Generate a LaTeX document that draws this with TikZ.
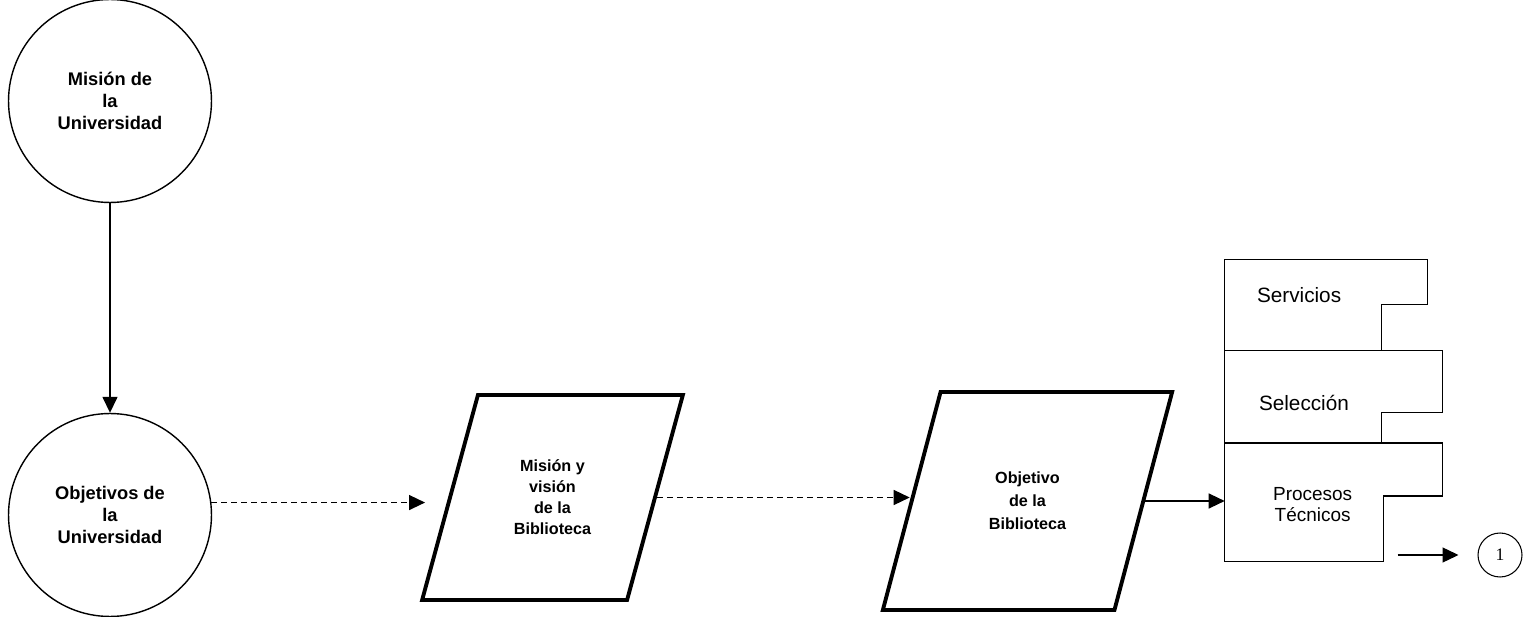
\documentclass[tikz,border=0pt]{standalone}
\usepackage{fontspec}
\setmainfont{Liberation Sans}
\newfontfamily\numfont{Liberation Serif}
\usetikzlibrary{positioning,shapes.geometric,arrows.meta}

\tikzset{
  goal/.style={draw, circle, line width=0.8pt, minimum size=4.06cm, inner sep=0pt, align=center,
    font=\bfseries\fontsize{10.4}{12.4}\selectfont},
  datum/.style={draw, trapezium, trapezium stretches=true, line width=2.2pt, inner sep=0pt, align=center,
    font=\bfseries\fontsize{9.2}{12}\selectfont},
  tabbox/.style={minimum width=4.34cm, inner sep=0pt},
  tabline/.style={line width=0.8pt},
  tabtext/.style={inner sep=0pt, align=center, font=\fontsize{11.8}{12}\selectfont},
  arr/.style={-{Triangle[length=0.32cm,width=0.3cm]}, line width=0.8pt},
  dasharr/.style={arr, dash pattern=on 0.12cm off 0.08cm},
}

\begin{document}
\begin{tikzpicture}[x=0.02cm, y=-0.02cm]
        \useasboundingbox (0,0) rectangle (1531,617);

        % University circles
        \node[goal] (misuni) at (110,101) {Misión de\\la\\Universidad};
        \node[goal] (objuni) at (110,515) {Objetivos de\\la\\Universidad};

        % Library documents
        \node[datum, minimum width=5.22cm, minimum height=4.1cm, trapezium left angle=69, trapezium right angle=111] (mvb) at (552.5,497.5) {Misión y\\visión\\de la\\Biblioteca};
        \node[datum, minimum width=5.82cm, minimum height=4.36cm, trapezium left angle=66, trapezium right angle=114,
          font=\bfseries\fontsize{9.2}{13}\selectfont] (ob) at (1027.5,501) {Objetivo\\de la\\Biblioteca};

        % Stacked areas
        \node[tabbox, minimum width=4.04cm, minimum height=1.8cm] (serv) at (1326,305) {};
        \node[tabbox, minimum height=1.84cm, anchor=north west] (sel) at (serv.south west) {};
        \node[tabbox, minimum height=2.36cm, anchor=north west] (proc) at (sel.south west) {};

        \draw[tabline] (serv.north west) -- (serv.north east) -- ++(0,-0.9cm) -| ([xshift=-0.92cm]serv.south east) -- (serv.south west) -- cycle;
        \draw[tabline] (sel.north west) -- (sel.north east) -- ++(0,-1.24cm) -| ([xshift=-1.22cm]sel.south east) -- (sel.south west) -- cycle;
        \draw[tabline] (proc.north west) -- (proc.north east) -- ++(0,-1.06cm) -| ([xshift=-1.18cm]proc.south east) -- (proc.south west) -- cycle;

        \node[tabtext, anchor=west] (servtxt) at ([xshift=0.64cm, yshift=0.2cm]serv.west) {Servicios};
        \node[tabtext, anchor=west] (seltxt) at ([xshift=0.68cm, yshift=-0.12cm]sel.west) {Selección};
        \node[tabtext, font=\fontsize{10.8}{12}\selectfont] (proctxt) at ([xshift=1.76cm, yshift=-0.05cm]proc.west) {Procesos\\Técnicos};

        % Connector
        \node[draw, circle, line width=0.6pt, minimum size=0.88cm, inner sep=0pt, font=\numfont\fontsize{10}{12}\selectfont] (one) at (1500,555) {1};

        % Draw connections
        \draw[arr] (misuni) -- (objuni);
        \draw[dasharr, shorten >=0.46cm] (objuni.7) -- (objuni.7 -| mvb.west);
        \draw[dasharr] (mvb.east) -- (mvb.east -| ob.west);
        \draw[arr] (ob.east) -- (ob.east -| proc.west);
        \draw[arr] ([xshift=-1.6cm]one.west) -- ([xshift=-0.38cm]one.west);

    \end{tikzpicture}
\end{document}
